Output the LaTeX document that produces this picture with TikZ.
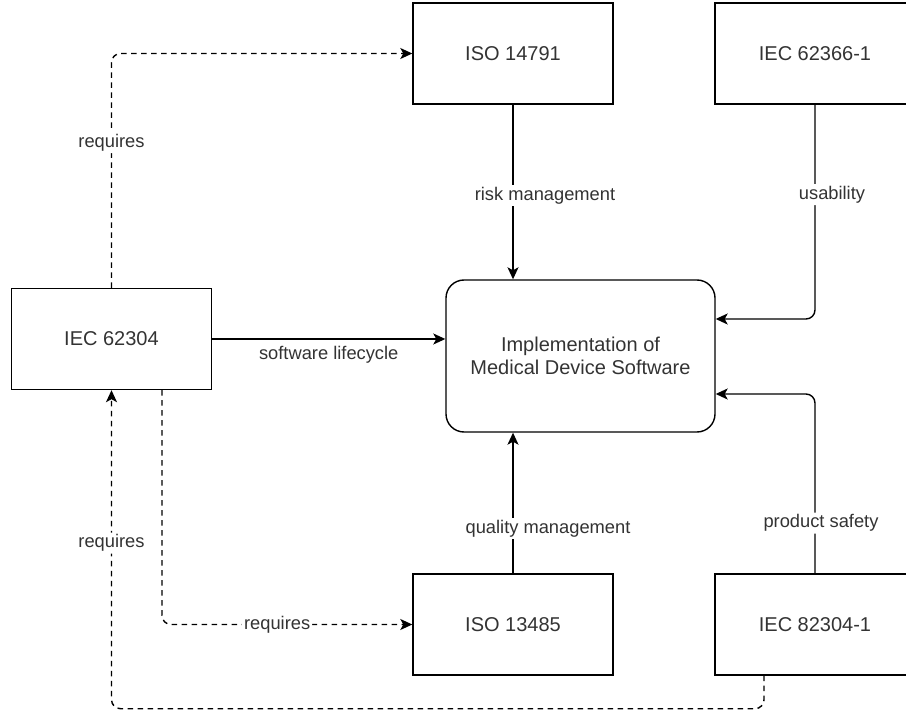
\documentclass[tikz,border=0pt]{standalone}
\usepackage{fontspec}
\setmainfont{Liberation Sans}
\usetikzlibrary{arrows.meta}
\definecolor{txt}{RGB}{51,51,51}
\begin{document}
\begin{tikzpicture}[x=1pt,y=-1pt,
  box/.style={draw, line width=1.4pt, minimum width=200pt, minimum height=101pt,
    inner sep=0pt, text=txt, font=\fontsize{20}{23}\selectfont},
  link/.style={line width=1.4pt, -{Stealth[length=12pt,width=11pt,inset=3pt]}},
  dashlink/.style={link, dash pattern=on 5.5pt off 4.5pt, rounded corners=9pt},
  lbl/.style={fill=white, inner sep=2pt, text=txt, font=\fontsize{18.3}{22}\selectfont}
]
\path[use as bounding box, clip] (0,0) rectangle (906,711);

% standards and the central activity
\node[box] (iso14791) at (513,53.5) {ISO 14791};
\node[box] (iec62366) at (815,53.5) {IEC 62366-1};
\node[box] (iec62304) at (111.5,339) {IEC 62304};
\node[box, rounded corners=18pt, minimum width=269pt, minimum height=152pt, align=center]
  (impl) at (580.5,356) {Implementation of\\Medical Device Software};
\node[box] (iso13485) at (513,624.5) {ISO 13485};
\node[box] (iec82304) at (815,624.5) {IEC 82304-1};

% contributions to the implementation
\draw[link] (iec62304.east) -- node[pos=0.5, yshift=-16pt, text=txt, inner sep=1pt,
  font=\fontsize{18.3}{22}\selectfont]{software lifecycle} (impl.west |- iec62304.east);
\draw[link] (iso14791.south) -- node[lbl, pos=0.52, xshift=32pt]{risk management}
  (iso14791.south |- impl.north);
\draw[link] (iso13485.north) -- node[lbl, pos=0.32, xshift=35pt]{quality management}
  (iso13485.north |- impl.south);
\draw[link, rounded corners=9pt] (iec62366.south) |- node[lbl, pos=0.21, xshift=17pt]{usability}
  ([yshift=37pt]impl.east);
\draw[link, rounded corners=9pt] (iec82304.north) |- node[lbl, pos=0.14, xshift=6pt]{product safety}
  ([yshift=-38pt]impl.east);

% "requires" dependencies
\draw[dashlink] (iec62304.north) |- node[lbl, pos=0.31]{requires} (iso14791.west);
\draw[dashlink] ([xshift=50.5pt]iec62304.south) |- node[lbl, pos=0.73]{requires} (iso13485.west);
\draw[dashlink] ([xshift=-51pt]iec82304.south) -- ++(0,33) -| node[lbl, pos=0.76]{requires}
  (iec62304.south);
\end{tikzpicture}
\end{document}
